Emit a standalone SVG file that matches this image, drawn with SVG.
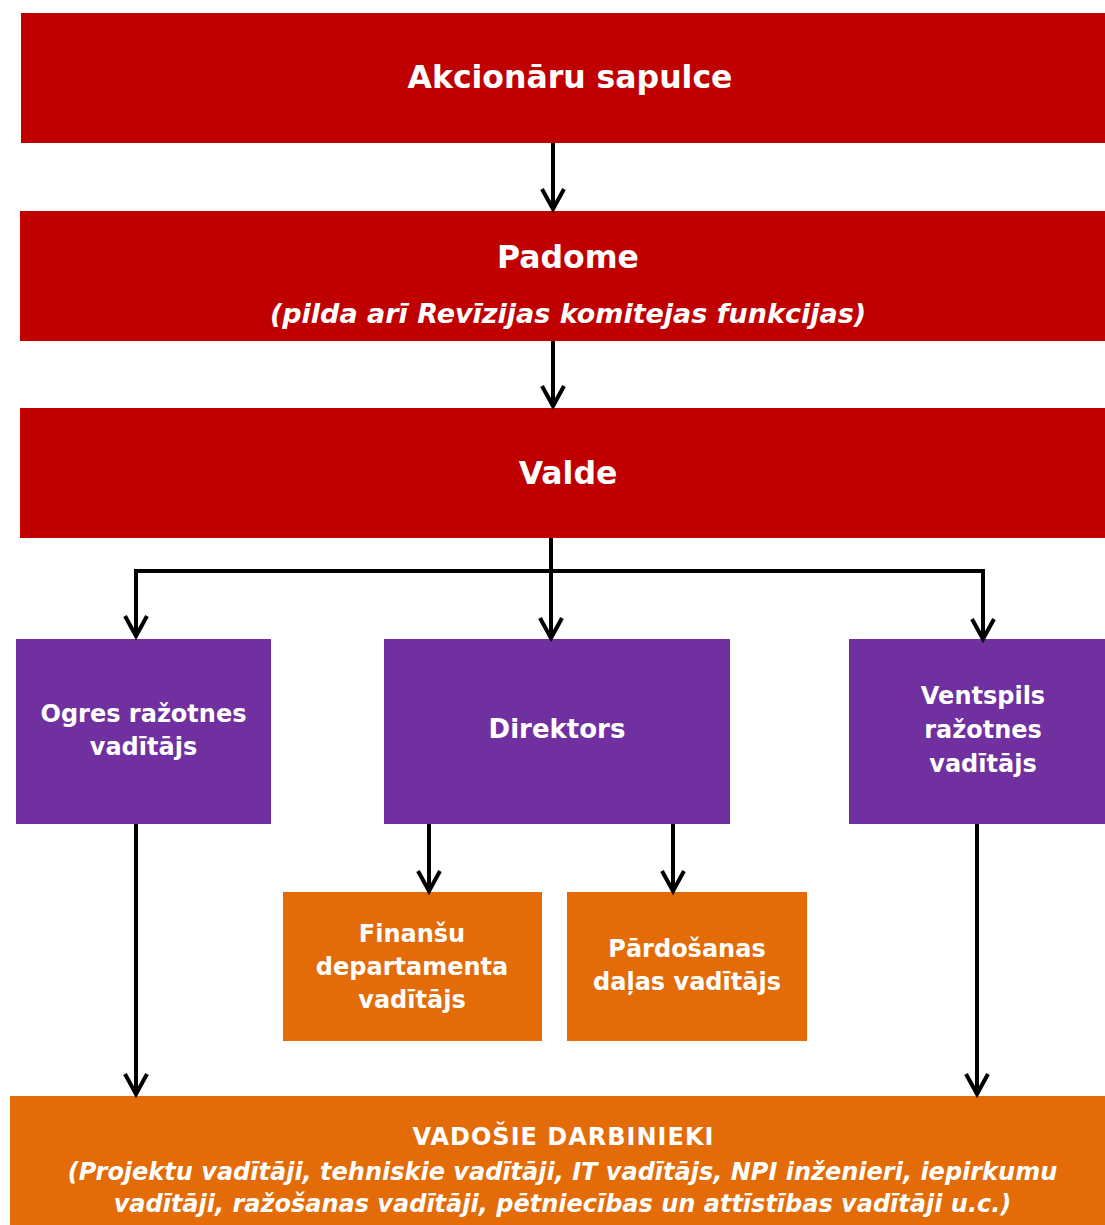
<svg xmlns="http://www.w3.org/2000/svg" width="1105" height="1225" viewBox="0 0 1105 1225">
<defs>
<style>
.red{fill:#C00000}
.pur{fill:#7030A0}
.org{fill:#E36C09}
text{font-family:"DejaVu Sans","Verdana",sans-serif;font-weight:bold;fill:#fff;text-anchor:middle}
.it{font-style:italic}
.big{font-size:31.5px}
.mid{font-size:24px}
.conn{fill:none;stroke:#000;stroke-width:4}
</style>
<marker id="ah" viewBox="-24 -14 28 28" markerWidth="28" markerHeight="28" refX="0" refY="0" orient="auto" markerUnits="userSpaceOnUse">
<path d="M-21,-11 L-1,0 L-21,11" fill="none" stroke="#000" stroke-width="4" stroke-linejoin="miter"/>
</marker>
</defs>
<rect width="1105" height="1225" fill="#fff"/>
<g id="akcionaru">
<rect class="red" x="21" y="13" width="1084" height="130"/>
<text class="big" x="570" y="88">Akcionāru sapulce</text>
</g>
<g id="padome">
<rect class="red" x="20" y="211" width="1085" height="130"/>
<text class="big" x="568" y="268">Padome</text>
<text class="it" x="568" y="323" font-size="27">(pilda arī Revīzijas komitejas funkcijas)</text>
</g>
<g id="valde">
<rect class="red" x="20" y="408" width="1085" height="130"/>
<text class="big" x="568" y="484">Valde</text>
</g>
<g id="ogres">
<rect class="pur" x="16" y="639" width="255" height="185"/>
<text class="mid" x="143.5" y="722">Ogres ražotnes</text>
<text class="mid" x="143.5" y="755">vadītājs</text>
</g>
<g id="direktors">
<rect class="pur" x="384" y="639" width="346" height="185"/>
<text x="557" y="738" font-size="26">Direktors</text>
</g>
<g id="ventspils">
<rect class="pur" x="849" y="639" width="256" height="185"/>
<text class="mid" x="983" y="704">Ventspils</text>
<text class="mid" x="983" y="738">ražotnes</text>
<text class="mid" x="983" y="772">vadītājs</text>
</g>
<g id="finansu">
<rect class="org" x="283" y="892" width="259" height="149"/>
<text class="mid" x="412" y="942">Finanšu</text>
<text class="mid" x="412" y="975">departamenta</text>
<text class="mid" x="412" y="1008">vadītājs</text>
</g>
<g id="pardosanas">
<rect class="org" x="567" y="892" width="240" height="149"/>
<text class="mid" x="687" y="957">Pārdošanas</text>
<text class="mid" x="687" y="990">daļas vadītājs</text>
</g>
<g id="vadosie">
<rect class="org" x="10" y="1096" width="1095" height="129"/>
<text class="mid" x="563.5" y="1145" letter-spacing="1">VADOŠIE DARBINIEKI</text>
<text class="it mid" x="562.5" y="1180">(Projektu vadītāji, tehniskie vadītāji, IT vadītājs, NPI inženieri, iepirkumu</text>
<text class="it mid" x="562.5" y="1212">vadītāji, ražošanas vadītāji, pētniecības un attīstības vadītāji u.c.)</text>
</g>
<g id="connectors">
<path class="conn" d="M553,143 V210" marker-end="url(#ah)"/>
<path class="conn" d="M553,341 V407" marker-end="url(#ah)"/>
<path class="conn" d="M551,538 V639" marker-end="url(#ah)"/>
<path class="conn" d="M136,571 H983"/>
<path class="conn" d="M136,569 V637" marker-end="url(#ah)"/>
<path class="conn" d="M983,569 V640" marker-end="url(#ah)"/>
<path class="conn" d="M429,824 V892" marker-end="url(#ah)"/>
<path class="conn" d="M673,824 V892" marker-end="url(#ah)"/>
<path class="conn" d="M136,824 V1095" marker-end="url(#ah)"/>
<path class="conn" d="M977,824 V1095" marker-end="url(#ah)"/>
</g>
</svg>
